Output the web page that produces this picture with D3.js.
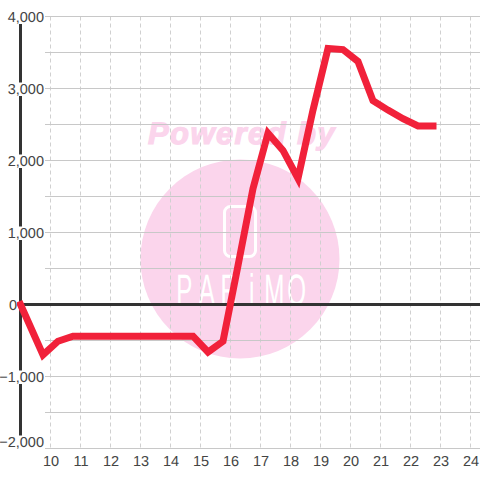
<!DOCTYPE html>
<html>
<head>
<meta charset="utf-8">
<script src="https://cdn.jsdelivr.net/npm/d3@7"></script>
<style>
  html, body { margin: 0; padding: 0; background: #fff; }
  svg { display: block; }
  text { font-family: "Liberation Sans", sans-serif; text-rendering: geometricPrecision; }
</style>
</head>
<body>
<svg id="chart" width="480" height="480"></svg>
<script>
// Hours along the bottom and values along the left
var hourTicks = [10, 11, 12, 13, 14, 15, 16, 17, 18, 19, 20, 21, 22, 23, 24];
var valueTicks = [4000, 3000, 2000, 1000, 0, -1000, -2000];
var gridValues = [4000, 3500, 3000, 2500, 2000, 1500, 1000, 500, -500, -1000, -1500, -2000];

// Series
var hours = [9, 9.75, 10.25, 10.75, 11.25, 11.75, 12.25, 12.75, 13.25, 13.75, 14.25, 14.75, 15.25, 15.75,
  16.25, 16.75, 17.25, 17.75, 18.25, 18.75, 19.25, 19.75, 20.25, 20.75, 21.25, 21.75, 22.25, 22.75];
var values = [0, -700, -510, -440, -440, -440, -440, -440, -440, -440, -440, -440, -660, -510,
  540, 1610, 2380, 2140, 1750, 2700, 3555, 3540, 3375, 2830, 2700, 2580, 2480, 2480];

var svg = d3.select("#chart");

// 30px per hour, 72px per 1000
var x = d3.scaleLinear().domain([9, 24]).range([20.5, 470.5]);
var y = d3.scaleLinear().domain([4000, -2000]).range([16.5, 448.5]);

// Watermark sits under the grid
svg.append("circle")
  .attr("cx", 240)
  .attr("cy", 259)
  .attr("r", 99.5)
  .attr("fill", "#fbd5ec");

svg.append("text")
  .attr("x", 242)
  .attr("y", 144)
  .attr("text-anchor", "middle")
  .attr("font-size", 31)
  .attr("font-weight", "bold")
  .attr("font-style", "italic")
  .attr("letter-spacing", 1.4)
  .attr("fill", "#fbd5ec")
  .attr("stroke", "#fbd5ec")
  .attr("stroke-width", 1.2)
  .text("Powered by");

svg.append("rect")
  .attr("x", 224.5)
  .attr("y", 206.5)
  .attr("width", 31)
  .attr("height", 50)
  .attr("rx", 6)
  .attr("fill", "none")
  .attr("stroke", "#fff")
  .attr("stroke-width", 3);

// Logo letters are tall and thin, squeeze them and give each an even slot
var logoScale = 0.55,
    logoPitch = 22.5;

svg.append("text")
  .attr("transform", "translate(173,305) scale(" + logoScale + ",1)")
  .attr("x", d3.range(6).map(function (i) { return (i + 0.5) * logoPitch / logoScale; }).join(" "))
  .attr("text-anchor", "middle")
  .attr("font-size", 44)
  .attr("fill", "#fff")
  .text("PARiMO");

// Grid
svg.append("g").selectAll("line")
  .data(hourTicks)
  .enter().append("line")
  .attr("x1", function (d) { return x(d); })
  .attr("x2", function (d) { return x(d); })
  .attr("y1", y(4000))
  .attr("y2", y(-2000))
  .attr("stroke", "#d0d0d0")
  .attr("stroke-dasharray", "4,3");

svg.append("g").selectAll("line")
  .data(gridValues)
  .enter().append("line")
  .attr("x1", 45)
  .attr("x2", 480)
  .attr("y1", function (d) { return y(d); })
  .attr("y2", function (d) { return y(d); })
  .attr("stroke", "#c8c8c8");

// Axis lines
svg.append("line")
  .attr("x1", x(9))
  .attr("x2", x(9))
  .attr("y1", y(4000))
  .attr("y2", y(-2000))
  .attr("stroke", "#333")
  .attr("stroke-width", 3);

svg.append("line")
  .attr("x1", x(9))
  .attr("x2", 480)
  .attr("y1", y(0))
  .attr("y2", y(0))
  .attr("stroke", "#333")
  .attr("stroke-width", 3);

// Series
var line = d3.line()
  .x(function (d, i) { return x(hours[i]); })
  .y(function (d) { return y(d); });

svg.append("path")
  .datum(values)
  .attr("d", line)
  .attr("fill", "none")
  .attr("stroke", "#f1213a")
  .attr("stroke-width", 7)
  .attr("stroke-linecap", "square");

// Tick labels, the left ones knock out the axis line behind them
var yLabels = svg.append("g").selectAll("g")
  .data(valueTicks)
  .enter().append("g")
  .attr("transform", function (d) {
    var labelX = d === 0 ? 17 : 44;
    return "translate(" + labelX + "," + (d === -2000 ? y(d) - 7 : y(d)) + ")";
  });

yLabels.append("text")
  .attr("text-anchor", "end")
  .attr("dy", ".35em")
  .attr("font-size", 14.5)
  .attr("fill", "#444")
  .text(function (d) { return d3.format(",")(d); });

yLabels.insert("rect", "text")
  .each(function () {
    var box = this.parentNode.querySelector("text").getBBox();
    d3.select(this)
      .attr("x", box.x)
      .attr("y", -6)
      .attr("width", box.width)
      .attr("height", 13.5)
      .attr("fill", "#fff");
  });

svg.append("g").selectAll("text")
  .data(hourTicks)
  .enter().append("text")
  .attr("x", function (d) { return x(d) + 0.5; })
  .attr("y", 466)
  .attr("text-anchor", "middle")
  .attr("font-size", 14.5)
  .attr("fill", "#444")
  .text(function (d) { return d; });
</script>
</body>
</html>
